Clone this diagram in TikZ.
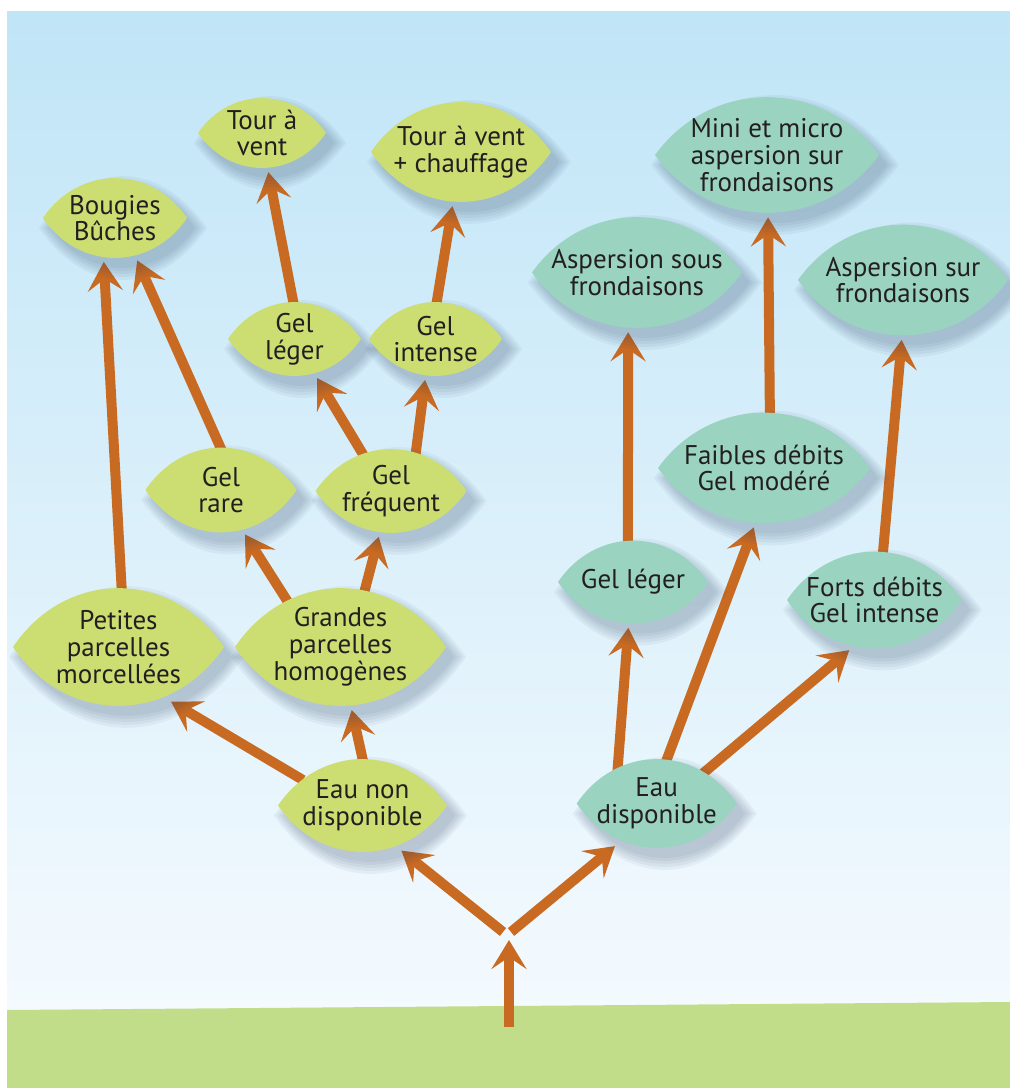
\documentclass[tikz,border=0pt]{standalone}
\usepackage{fontspec}
\setmainfont{PT Sans}
\usepackage{tikz}
\usetikzlibrary{arrows.meta, shapes.geometric}
\definecolor{skytop}{RGB}{192,229,247}
\definecolor{skybot}{RGB}{244,250,254}
\definecolor{ground}{RGB}{194,221,138}
\definecolor{leafgreen}{RGB}{204,222,114}
\definecolor{leafteal}{RGB}{154,212,192}
\definecolor{branch}{RGB}{201,106,34}
\definecolor{shadowc}{RGB}{40,60,90}
\definecolor{ink}{RGB}{35,31,32}
\pgfdeclarelayer{back}
\pgfdeclarelayer{stems}
\pgfsetlayers{back,stems,main}
\tikzset{
  leaftext/.style={shape=ellipse, inner sep=0pt, align=center, text=ink, font=\fontsize{13.5}{13.4}\selectfont},
  arrow/.style={draw=branch, line width=5pt, -{Stealth[length=14.5pt, width=17.5pt, inset=6pt]}, shorten >=2pt, shorten <=-4pt}
}
% leaf: name, centre, half width, half height, colour, text
\newcommand{\leaf}[6]{%
  \begin{scope}[shift={(#2)}]
    \foreach \k in {0,...,4}
      \fill[shadowc, opacity=0.055, shift={(8,10)}]
        ({-#3-3*\k},0) .. controls ({-0.5*#3},{1.33*(#4+3*\k)}) and ({0.5*#3},{1.33*(#4+3*\k)}) .. ({#3+3*\k},0)
        .. controls ({0.5*#3},{-1.33*(#4+3*\k)}) and ({-0.5*#3},{-1.33*(#4+3*\k)}) .. cycle;
    \fill[#5] (-#3,0) .. controls ({-0.5*#3},{1.33*#4}) and ({0.5*#3},{1.33*#4}) .. (#3,0)
      .. controls ({0.5*#3},{-1.33*#4}) and ({-0.5*#3},{-1.33*#4}) .. cycle;
  \end{scope}
  \node[leaftext, minimum width=#3pt, minimum height=#4pt] (#1) at (#2) {#6};%
}

\begin{document}
\begin{tikzpicture}[x=0.5pt, y=-0.5pt]
  \useasboundingbox (0,0) rectangle (1010,1088);
  \begin{pgfonlayer}{back}
    \fill[white] (0,0) rectangle (1010,1088);
    \shade[top color=skytop, bottom color=skybot] (7,11) rectangle (1010,1010);
    \fill[ground] (7,1010) -- (1010,1002) -- (1010,1088) -- (7,1088) -- cycle;
  \end{pgfonlayer}

  % left side, no water
  \leaf{bougies}{115,218}{72}{40}{leafgreen}{Bougies\\Bûches}
  \leaf{tourvent}{262,133}{64}{35}{leafgreen}{Tour à\\vent}
  \leaf{tourchauf}{461,152}{90}{50}{leafgreen}{Tour à vent\\+ chauffage}
  \leaf{gelleger}{294.5,339}{66.5}{37}{leafgreen}{Gel\\léger}
  \leaf{gelintense}{435.5,339}{66.5}{37}{leafgreen}{Gel\\intense}
  \leaf{gelrare}{221,490}{75.5}{42.5}{leafgreen}{Gel\\rare}
  \leaf{gelfreq}{391,491}{75.5}{42}{leafgreen}{Gel\\fréquent}
  \leaf{petites}{118.5,647}{105.5}{59}{leafgreen}{Petites\\parcelles\\morcellées}
  \leaf{grandes}{340.5,647}{105.5}{59}{leafgreen}{Grandes\\parcelles\\homogènes}
  \leaf{eaunon}{362.5,805.5}{84.5}{46.5}{leafgreen}{Eau non\\disponible}

  % right side, water
  \leaf{eaudispo}{656.7,803.5}{80}{44.5}{leafteal}{Eau\\disponible}
  \leaf{gellegerd}{633,582}{75}{41.5}{leafteal}{Gel léger}
  \leaf{faibles}{764,468}{106}{55.5}{leafteal}{Faibles débits\\Gel modéré}
  \leaf{forts}{874.5,600}{87.5}{48.5}{leafteal}{Forts débits\\Gel intense}
  \leaf{aspsous}{637,272.5}{105}{55.5}{leafteal}{Aspersion sous\\frondaisons}
  \leaf{aspsur}{903,280}{105}{55.5}{leafteal}{Aspersion sur\\frondaisons}
  \leaf{mini}{767,155}{112}{58}{leafteal}{Mini et micro\\aspersion sur\\frondaisons}

  \coordinate (base) at (509,1027);
  \coordinate (fork) at (509,940);
  \coordinate (forkl) at (503,932);
  \coordinate (forkr) at (511,932);

  \begin{pgfonlayer}{stems}
    \draw[arrow, shorten <=0pt, shorten >=0pt] (base) -- (fork);
    \draw[arrow, shorten <=0pt] (forkl) -- (eaunon.-50);
    \draw[arrow, shorten <=0pt] (forkr) -- (eaudispo.-134);
    \draw[arrow] (eaunon.156) -- (petites.-47);
    \draw[arrow] (eaunon.90) -- (grandes.-80);
    \draw[arrow] (petites.87) -- (bougies.-106);
    \draw[arrow] (grandes.138) -- (gelrare.-62);
    \draw[arrow] (grandes.67) -- (gelfreq.-105);
    \draw[arrow] (gelrare.91) -- (bougies.-62);
    \draw[arrow] (gelfreq.127) -- (gelleger.-60);
    \draw[arrow] (gelfreq.58) -- (gelintense.-105);
    \draw[arrow] (gelleger.92) -- (tourvent.-81);
    \draw[arrow] (gelintense.88) -- (tourchauf.-99);
    \draw[arrow] (eaudispo.134) -- (gellegerd.-96);
    \draw[arrow] (eaudispo.77) -- (faibles.-99);
    \draw[arrow] (eaudispo.34) -- (forts.-115);
    \draw[arrow] (gellegerd.97) -- (aspsous.-99);
    \draw[arrow] (faibles.84) -- (mini.-89);
    \draw[arrow] (forts.80) -- (aspsur.-91);
  \end{pgfonlayer}
\end{tikzpicture}
\end{document}
